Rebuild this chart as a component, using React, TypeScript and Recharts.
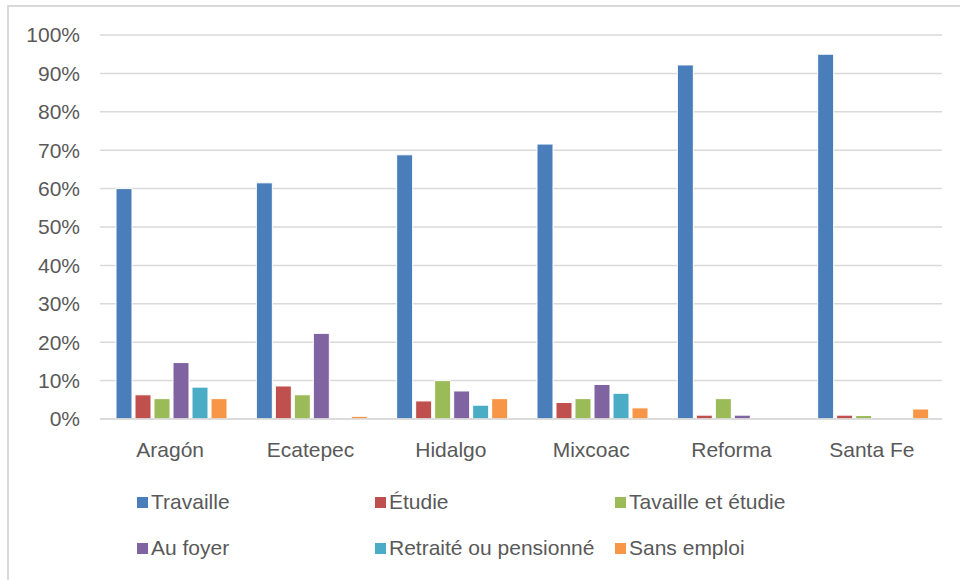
import { Bar, BarChart, CartesianGrid, XAxis, YAxis } from "recharts";

const campus = ["Aragón", "Ecatepec", "Hidalgo", "Mixcoac", "Reforma", "Santa Fe"];

const travaille = [60, 61.5, 68.8, 71.6, 92.2, 95];
const etudie = [6.3, 8.6, 4.7, 4.3, 1, 1];
const travailleEtudie = [5.3, 6.3, 10, 5.3, 5.3, 0.9];
const auFoyer = [14.7, 22.3, 7.3, 9, 1, 0];
const retraite = [8.3, 0, 3.6, 6.7, 0, 0];
const sansEmploi = [5.3, 0.7, 5.3, 2.9, 0, 2.6];

const yTicks = [0, 10, 20, 30, 40, 50, 60, 70, 80, 90, 100];

const series = [
  { key: "travaille", name: "Travaille", color: "#4a7ebb", values: travaille },
  { key: "etudie", name: "Étudie", color: "#c0504d", values: etudie },
  { key: "travailleEtudie", name: "Tavaille et étudie", color: "#9bbb59", values: travailleEtudie },
  { key: "auFoyer", name: "Au foyer", color: "#8064a2", values: auFoyer },
  { key: "retraite", name: "Retraité ou pensionné", color: "#4bacc6", values: retraite },
  { key: "sansEmploi", name: "Sans emploi", color: "#f79646", values: sansEmploi },
];

const rows = campus.map((name, i) => {
  const row: Record<string, string | number> = { name };
  series.forEach((s) => {
    row[s.key] = s.values[i];
  });
  return row;
});

const font = "'Liberation Sans', Arial, sans-serif";
const textColor = "#595959";
const legendCols = [137, 375, 615];
const legendRows = [502, 548];

export default function App() {
  return (
    <div
      style={{
        position: "absolute",
        left: 0,
        top: 0,
        width: 960,
        height: 580,
        background: "#fff",
        overflow: "hidden",
        fontFamily: font,
      }}
    >
      <div
        style={{
          position: "absolute",
          left: 7,
          top: 5,
          width: 1000,
          height: 1000,
          borderLeft: "2px solid #d9d9d9",
          borderTop: "2px solid #d9d9d9",
        }}
      />
      <div style={{ position: "absolute", left: 0, top: 0 }}>
        <BarChart
          width={960}
          height={580}
          data={rows}
          margin={{ top: 35, right: 18, bottom: 131, left: 0 }}
          barCategoryGap={16}
          barGap={3}
        >
          <CartesianGrid stroke="#d9d9d9" strokeWidth={1.5} vertical={false} />
          <XAxis
            dataKey="name"
            height={30}
            tickLine={false}
            axisLine={{ stroke: "#d9d9d9", strokeWidth: 1.5 }}
            tickSize={0}
            tickMargin={23}
            tick={{ fill: textColor, fontSize: 21, fontFamily: font }}
          />
          <YAxis
            width={100}
            domain={[0, 100]}
            ticks={yTicks}
            tickLine={false}
            axisLine={false}
            tickSize={0}
            tickMargin={20}
            tickFormatter={(v) => `${v}%`}
            tick={{ fill: textColor, fontSize: 21, fontFamily: font }}
          />
          {series.map((s) => (
            <Bar
              key={s.key}
              dataKey={s.key}
              name={s.name}
              fill={s.color}
              stroke="#ffffff"
              strokeWidth={1}
              isAnimationActive={false}
            />
          ))}
        </BarChart>
      </div>
      {series.map((s, i) => {
        const col = legendCols[i % 3];
        const row = legendRows[Math.floor(i / 3)];
        return (
          <div
            key={s.key}
            style={{
              position: "absolute",
              left: col,
              top: row - 12,
              height: 24,
              display: "flex",
              alignItems: "center",
              whiteSpace: "nowrap",
              color: textColor,
              fontSize: 21,
            }}
          >
            <span
              style={{
                display: "inline-block",
                width: 11,
                height: 11,
                background: s.color,
                marginRight: 3,
              }}
            />
            {s.name}
          </div>
        );
      })}
    </div>
  );
}
